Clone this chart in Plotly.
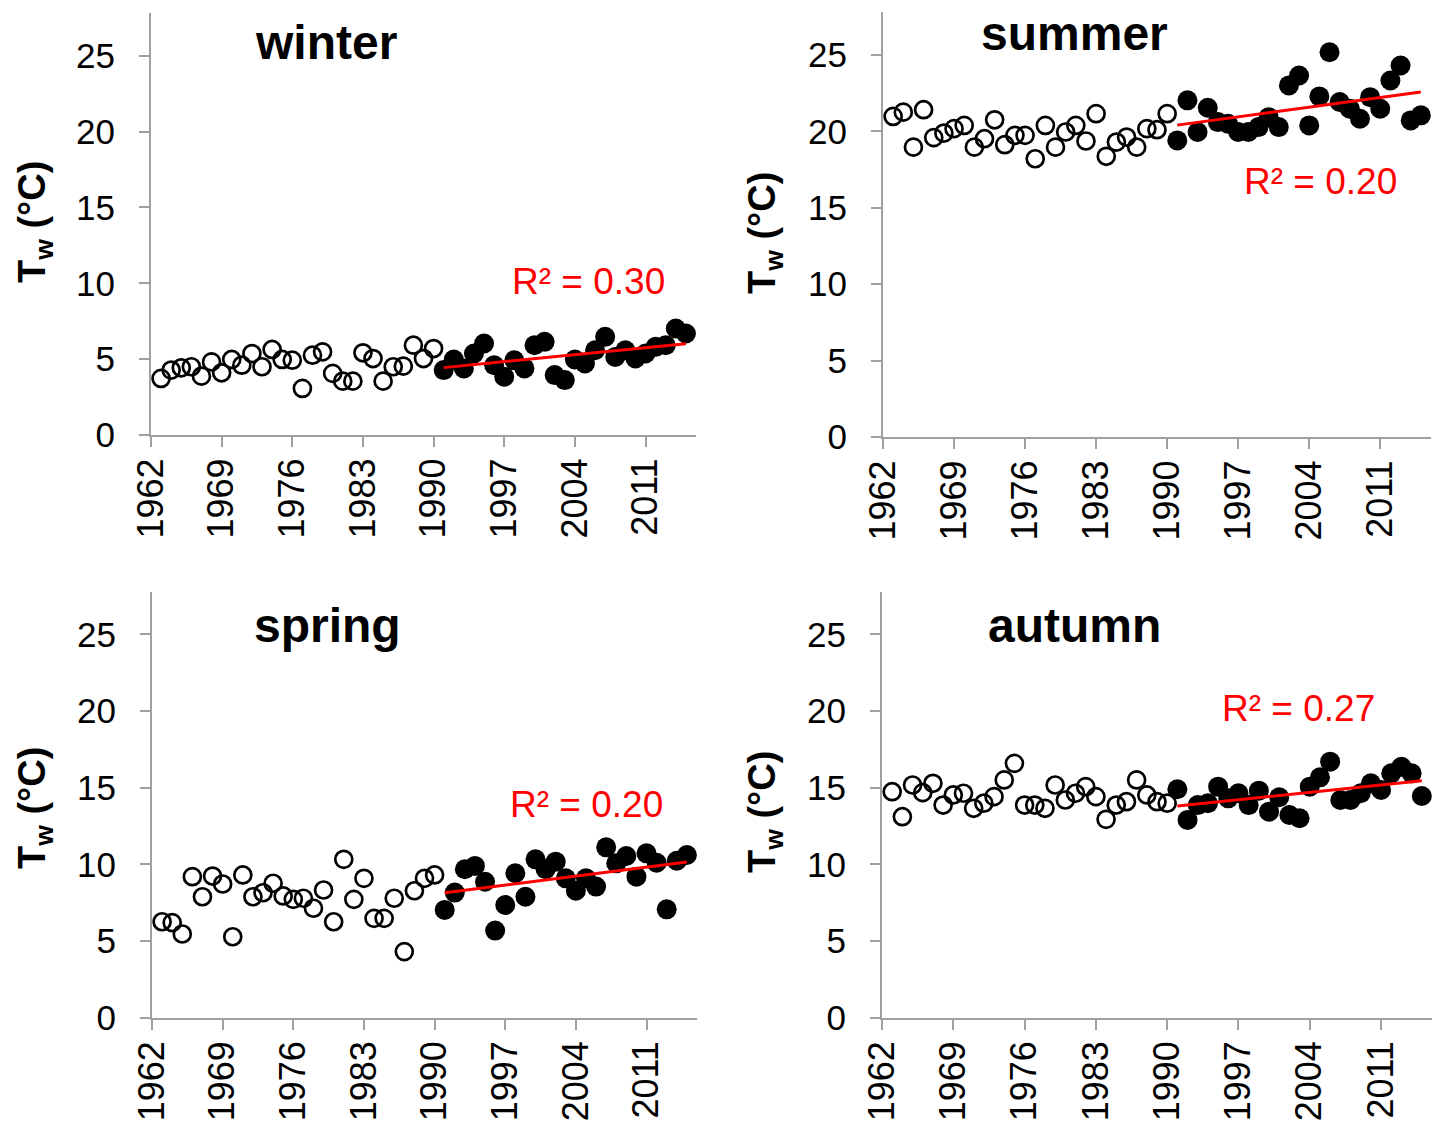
import numpy as np
import plotly.graph_objects as go

W, H = 1441, 1124

years_early = [1963, 1964, 1965, 1966, 1967, 1968, 1969, 1970, 1971, 1972, 1973, 1974, 1975, 1976,
               1977, 1978, 1979, 1980, 1981, 1982, 1983, 1984, 1985, 1986, 1987, 1988, 1989, 1990]
years_late = [1991, 1992, 1993, 1994, 1995, 1996, 1997, 1998, 1999, 2000, 2001, 2002, 2003, 2004,
              2005, 2006, 2007, 2008, 2009, 2010, 2011, 2012, 2013, 2014, 2015]

winter_early = [3.73, 4.28, 4.43, 4.50, 3.88, 4.82, 4.10, 4.98, 4.60, 5.37, 4.50, 5.64, 4.98, 4.93,
                3.07, 5.26, 5.48, 4.06, 3.55, 3.55, 5.42, 5.04, 3.55, 4.50, 4.54, 5.92, 5.04, 5.70]
winter_late = [4.28, 4.98, 4.39, 5.37, 6.03, 4.60, 3.84, 4.93, 4.39, 5.92, 6.14, 3.95, 3.62, 4.98,
               4.71, 5.59, 6.47, 5.15, 5.59, 5.04, 5.37, 5.81, 5.92, 7.02, 6.69]

summer_early = [20.98, 21.26, 18.97, 21.42, 19.59, 19.89, 20.18, 20.39, 18.97, 19.52, 20.76, 19.13,
                19.74, 19.74, 18.21, 20.39, 18.97, 19.96, 20.39, 19.37, 21.16, 18.37, 19.30, 19.63,
                18.97, 20.18, 20.11, 21.16]
summer_late = [19.41, 22.03, 19.96, 21.55, 20.61, 20.50, 19.96, 19.96, 20.28, 20.93, 20.28, 23.01,
               23.66, 20.39, 22.29, 25.18, 21.92, 21.48, 20.83, 22.24, 21.48, 23.33, 24.31, 20.72,
               21.05]

spring_early = [6.26, 6.20, 5.46, 9.20, 7.89, 9.24, 8.72, 5.28, 9.31, 7.89, 8.15, 8.77, 7.94, 7.72,
                7.79, 7.14, 8.33, 6.26, 10.33, 7.72, 9.09, 6.48, 6.48, 7.79, 4.31, 8.28, 9.09, 9.31]
spring_late = [7.03, 8.16, 9.68, 9.90, 8.87, 5.68, 7.35, 9.42, 7.89, 10.33, 9.68, 10.18, 9.09, 8.28,
               9.09, 8.55, 11.11, 10.07, 10.55, 9.20, 10.72, 10.11, 7.07, 10.24, 10.61]

autumn_early = [14.74, 13.11, 15.18, 14.68, 15.29, 13.87, 14.53, 14.64, 13.66, 13.99, 14.42, 15.51,
                16.59, 13.87, 13.87, 13.66, 15.18, 14.20, 14.64, 15.07, 14.42, 12.94, 13.87, 14.09,
                15.51, 14.53, 14.09, 13.99]
autumn_late = [14.90, 12.90, 13.87, 13.99, 15.07, 14.31, 14.64, 13.87, 14.81, 13.44, 14.38, 13.22,
               13.01, 15.07, 15.68, 16.70, 14.20, 14.20, 14.64, 15.29, 14.85, 15.94, 16.37, 15.94,
               14.46]

season_names = ["winter", "summer", "spring", "autumn"]
r2_labels = ["R² = 0.30", "R² = 0.20", "R² = 0.20", "R² = 0.27"]
x_tickvals = [1962, 1969, 1976, 1983, 1990, 1997, 2004, 2011]
y_tickvals = [0, 5, 10, 15, 20, 25]

early = [winter_early, summer_early, spring_early, autumn_early]
late = [winter_late, summer_late, spring_late, autumn_late]


def px(x):
    return x / W


def py(y):
    return 1 - y / H


# panel pixel boxes in page pixels: (left, right, y of 0, top)
panels = [
    (151, 696, 435, 13.3),
    (883, 1431, 437, 12.2),
    (152, 697, 1017.7, 591.5),
    (882, 1432, 1017.7, 591.5),
]
title_pos = [(326, 42), (1074, 33), (327, 625), (1074, 625)]
r2_pos = [(588, 281), (1320, 182), (586, 804), (1298, 708)]
ytitle_pos = [(35, 222), (765, 233), (35, 808), (765, 812)]

FONT = "Liberation Sans, Arial, sans-serif"
AXC = "#A0A0A0"
RED = "#FF0000"

fig = go.Figure()
annotations = []
for i in range(4):
    xa = "x" if i == 0 else f"x{i+1}"
    ya = "y" if i == 0 else f"y{i+1}"
    fig.add_trace(go.Scatter(
        x=years_early, y=early[i], mode="markers", xaxis=xa, yaxis=ya,
        marker=dict(symbol="circle-open", size=17, color="black", line=dict(width=2.7, color="black")),
        showlegend=False, hoverinfo="x+y"))
    fig.add_trace(go.Scatter(
        x=years_late, y=late[i], mode="markers", xaxis=xa, yaxis=ya,
        marker=dict(symbol="circle", size=20, color="black", line=dict(width=0)),
        showlegend=False, hoverinfo="x+y"))
    coef = np.polyfit(years_late, late[i], 1)
    xs = [years_late[0], years_late[-1]]
    fig.add_trace(go.Scatter(
        x=xs, y=list(np.polyval(coef, xs)), mode="lines", xaxis=xa, yaxis=ya,
        line=dict(color=RED, width=3), showlegend=False, hoverinfo="skip"))

    l, r, b, t = panels[i]
    axkey_x = "xaxis" if i == 0 else f"xaxis{i+1}"
    axkey_y = "yaxis" if i == 0 else f"yaxis{i+1}"
    fig.layout[axkey_x] = dict(
        domain=[px(l), px(r)], range=[1962, 2016], anchor=ya, automargin=False,
        tickvals=x_tickvals, ticktext=[str(v) for v in x_tickvals], tickangle=-90,
        ticks="outside", ticklen=10, tickwidth=2, tickcolor=AXC,
        showline=True, linecolor=AXC, linewidth=2, showgrid=False, zeroline=False,
        tickfont=dict(family=FONT, size=36, color="black"), ticklabelstandoff=-3)
    fig.layout[axkey_y] = dict(
        domain=[py(b), py(t)], range=[0, 27.8], anchor=xa, automargin=False,
        tickvals=y_tickvals, ticks="outside", ticklen=10, tickwidth=2, tickcolor=AXC,
        showline=True, linecolor=AXC, linewidth=2, showgrid=False, zeroline=False,
        tickfont=dict(family=FONT, size=35, color="black"), ticklabelstandoff=17)

    tx, ty = title_pos[i]
    annotations.append(dict(x=px(tx), y=py(ty), xref="paper", yref="paper",
                            text=f"<b>{season_names[i]}</b>", showarrow=False,
                            xanchor="center", yanchor="middle",
                            font=dict(family=FONT, size=48, color="black")))
    rx, ry = r2_pos[i]
    annotations.append(dict(x=px(rx), y=py(ry), xref="paper", yref="paper",
                            text=r2_labels[i], showarrow=False,
                            xanchor="center", yanchor="middle",
                            font=dict(family=FONT, size=37, color=RED)))
    qx, qy = ytitle_pos[i]
    annotations.append(dict(x=px(qx), y=py(qy), xref="paper", yref="paper",
                            text="<b>T<sub>w</sub> (°C)</b>", showarrow=False, textangle=-90,
                            xanchor="center", yanchor="middle",
                            font=dict(family=FONT, size=38, color="black")))

fig.update_layout(
    width=W, height=H, margin=dict(l=0, r=0, t=0, b=0, autoexpand=False),
    paper_bgcolor="white", plot_bgcolor="white",
    annotations=annotations,
    font=dict(family=FONT, color="black"),
)

fig.write_html("out.html", config={"displayModeBar": False},
               post_script="document.body.style.margin='0';document.body.style.overflow='hidden';")
